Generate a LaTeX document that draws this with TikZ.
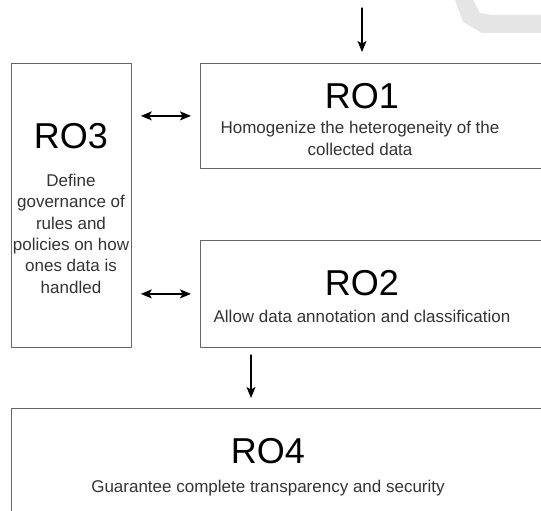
\documentclass[tikz,border=0pt]{standalone}
\usepackage{fontspec}
\setmainfont{Liberation Sans}
\usetikzlibrary{arrows.meta}
\begin{document}
\begin{tikzpicture}[x=1pt,y=-1pt,>={Stealth[length=11pt,width=9pt,inset=2.5pt]}, line join=round, line cap=round,
        box/.style={draw=black!60, line width=0.8pt, rectangle, inner sep=0pt, anchor=north west},
        title/.style={font=\fontsize{36}{40}\selectfont, anchor=base, inner sep=0pt},
        desc/.style={font=\fontsize{17}{21.3}\selectfont, text=black!80, align=center, anchor=base, inner sep=0pt},
        link/.style={line width=1.3pt}]
    \useasboundingbox (0,0) rectangle (541,511);
    \clip (0,0) rectangle (541,511);
    \fill[black!10] (455,0)--(473,0)--(480,13)--(492,15)--(541,15)--(541,33)--(482,33)--(463,22)--cycle; % watermark
    % boxes
    \node[box, minimum width=120pt, minimum height=284pt] (ro3) at (11,63) {};
    \node[box, minimum width=400pt, minimum height=105pt] (ro1) at (200,63) {};
    \node[box, minimum width=400pt, minimum height=107pt] (ro2) at (200,240) {};
    \node[box, minimum width=600pt, minimum height=150pt] (ro4) at (11,408) {};
    % texts (multi-line: base = last line)
    \node[title] (ro1t) at (362,108) {RO1};
    \node[desc] (ro1d) at (360,155) {Homogenize the heterogeneity of the\\collected data};
    \node[title] (ro2t) at (362,295) {RO2};
    \node[desc] (ro2d) at (362,322) {Allow data annotation and classification};
    \node[title] (ro3t) at (71,148) {RO3};
    \node[desc] (ro3d) at (71,293) {Define\\governance of\\rules and\\policies on how\\ones data is\\handled};
    \node[title] (ro4t) at (268,463) {RO4};
    \node[desc] (ro4d) at (268,492) {Guarantee complete transparency and security};
    % arrows
    \coordinate (in) at (362,8);
    \coordinate (out) at (251,355);
    \draw[link,->, shorten >=11pt] (in) -- (in |- ro1.north);
    \draw[link,<->, shorten <=9pt, shorten >=9pt] (ro1.west -| ro3.east) -- (ro1.west);
    \draw[link,<->, shorten <=9pt, shorten >=9pt] (ro2.west -| ro3.east) -- (ro2.west);
    \draw[link,->, shorten >=10pt] (out) -- (out |- ro4.north);
\end{tikzpicture}
\end{document}
